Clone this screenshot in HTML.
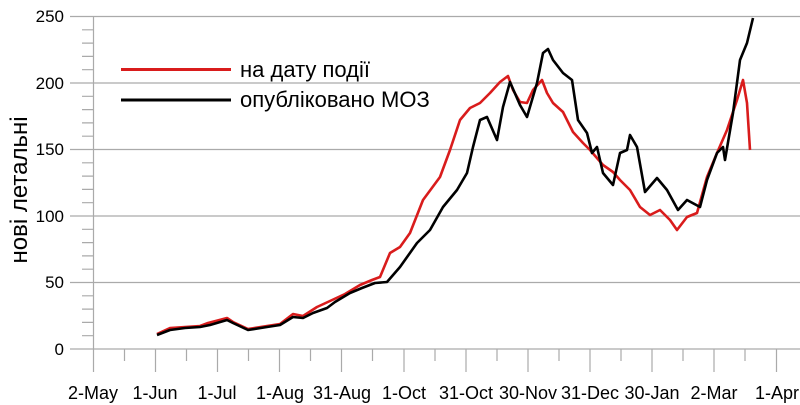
<!DOCTYPE html>
<html><head><meta charset="utf-8"><style>html,body{margin:0;padding:0;background:#fff}svg{display:block}</style></head>
<body>
<svg width="800" height="405" xmlns="http://www.w3.org/2000/svg" font-family="Liberation Sans, sans-serif">
<g stroke="#aaa" stroke-width="1.2">
<line x1="70" y1="16.5" x2="800" y2="16.5"/><line x1="70" y1="83" x2="800" y2="83"/><line x1="70" y1="149.5" x2="800" y2="149.5"/><line x1="70" y1="216" x2="800" y2="216"/><line x1="70" y1="282.5" x2="800" y2="282.5"/><line x1="70" y1="349" x2="800" y2="349"/>
<line x1="93.5" y1="16" x2="93.5" y2="372"/>
<path d="M82 29.8H93M82 43.1H93M82 56.4H93M82 69.7H93M82 96.3H93M82 109.6H93M82 122.9H93M82 136.2H93M82 162.8H93M82 176.1H93M82 189.4H93M82 202.7H93M82 229.3H93M82 242.6H93M82 255.9H93M82 269.2H93M82 295.8H93M82 309.1H93M82 322.4H93M82 335.7H93"/>
<path d="M124.5 349V361M155.5 349V372M186.5 349V361M217.5 349V372M248.5 349V361M279.5 349V372M310.5 349V361M341.5 349V372M372.5 349V361M404 349V372M435 349V361M466 349V372M497 349V361M528 349V372M559 349V361M590 349V372M621 349V361M652 349V372M683 349V361M714 349V372M745 349V361M776.5 349V372"/>
</g>
<g font-size="17" fill="#000" text-anchor="end">
<text x="64" y="22">250</text><text x="64" y="89">200</text><text x="64" y="155">150</text><text x="64" y="222">100</text><text x="64" y="288">50</text><text x="64" y="355">0</text>
</g>
<g font-size="18" fill="#000" text-anchor="middle">
<text x="93" y="399">2-May</text><text x="155" y="399">1-Jun</text><text x="217" y="399">1-Jul</text><text x="280" y="399">1-Aug</text><text x="342" y="399">31-Aug</text><text x="404" y="399">1-Oct</text><text x="466" y="399">31-Oct</text><text x="528" y="399">30-Nov</text><text x="590" y="399">31-Dec</text><text x="652" y="399">30-Jan</text><text x="714" y="399">2-Mar</text><text x="777" y="399">1-Apr</text>
</g>
<text transform="translate(27,190) rotate(-90)" font-size="24" text-anchor="middle">нові летальні</text>
<line x1="121" y1="69.5" x2="231" y2="69.5" stroke="#d91c1c" stroke-width="3"/>
<line x1="121" y1="100" x2="231" y2="100" stroke="#000" stroke-width="3"/>
<text x="240" y="77" font-size="22">на дату події</text>
<text x="240" y="107" font-size="22">опубліковано МОЗ</text>
<polyline fill="none" stroke="#d91c1c" stroke-width="2.6" stroke-linejoin="round" points="157,334 170,328 185,327 200,326 208,323 227,318 233,322 248,329 267,326 280,324 293,314 303,316 317,307 330,301 345,294 360,285 372,280 380,277 390,253 400,247 410,233 423,200 440,177 450,150 460,120 470,108 480,103 490,93 500,82 508,76 513,90 520,102 527,103 533,90 542,80 547,93 553,103 563,112 573,132 583,143 590,150 603,165 613,172 620,180 630,190 640,207 650,215 660,210 670,220 677,230 687,217 697,213 707,177 717,153 727,130 737,100 743,80 747,103 750,150"/>
<polyline fill="none" stroke="#000" stroke-width="2.6" stroke-linejoin="round" points="157,335 170,330 185,328 200,327 210,325 227,320 233,323 248,330 267,327 280,325 293,317 303,318 313,313 327,308 335,302 350,293 362,288 375,283 387,282 400,267 417,243 430,230 443,207 457,190 467,173 473,147 480,120 487,117 497,140 503,107 510,82 520,105 527,117 537,83 543,53 548,49 553,60 563,73 572,80 578,120 587,133 592,153 597,147 603,173 613,185 620,153 627,150 630,135 637,147 645,192 657,178 667,190 678,210 687,200 700,207 707,180 717,153 723,147 725,160 733,113 740,60 747,43 753,18"/>
</svg>
</body></html>
